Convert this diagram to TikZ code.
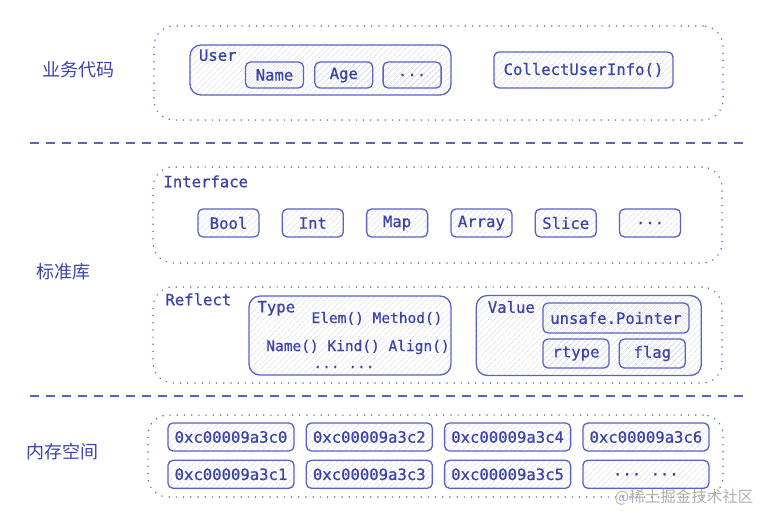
\documentclass[tikz,border=0pt]{standalone}
\usepackage{fontspec}
\setmonofont[FakeBold=0.8]{DejaVu Sans Mono}
\newfontfamily\cjk{Noto Sans CJK SC}
\usepackage{xcolor}
\usetikzlibrary{positioning,patterns.meta}
\definecolor{inkline}{RGB}{88,98,200}
\definecolor{inktext}{RGB}{58,68,168}
\definecolor{hatch}{RGB}{212,212,222}
\definecolor{mark}{RGB}{175,175,175}

\begin{document}
\begin{tikzpicture}[
  x=1pt, y=-1pt,
  font=\ttfamily\fontsize{15.6}{17}\selectfont, text=inktext,
  node distance=22pt,
  hatched/.style={pattern={Lines[angle=45,distance=4pt,line width=0.5pt]}, pattern color=hatch},
  item/.style={draw=inkline, line width=1.3pt, rounded corners=5pt, hatched, minimum width=61pt, minimum height=28pt, inner sep=0pt},
  addr/.style={item, minimum width=126pt},
  group/.style={draw=inkline, line width=1.3pt, rounded corners=11pt, hatched, inner sep=0pt},
  layer/.style={draw=inkline, line width=1.5pt, line cap=round, dash pattern=on 0.2pt off 7pt, rounded corners=20pt, inner sep=0pt},
  sep/.style={draw=inkline, line width=1.2pt, dash pattern=on 9pt off 7pt},
  tag/.style={font=\cjk\fontsize{18}{20}\selectfont},
  caption/.style={anchor=base west, inner sep=0pt},
  small/.style={font=\ttfamily\fontsize{14.5}{17}\selectfont}
]
\useasboundingbox (0,0) rectangle (772,522);

% layers
\node[layer, minimum width=569pt, minimum height=94pt] (biz) at (438.5,73) {};
\node[layer, minimum width=569pt, minimum height=96pt] (iface) at (437.5,215) {};
\node[layer, minimum width=569pt, minimum height=96pt] (refl) at (437.5,335) {};
\node[layer, minimum width=575pt, minimum height=82pt] (mem) at (435.5,456) {};

\node[tag] (bizlbl) at (78,70) {业务代码};
\node[tag] (stdlbl) at (63,272) {标准库};
\node[tag] (memlbl) at (63,452) {内存空间};

\draw[sep] (30,143) -- (750,143);
\draw[sep] (30,396) -- (750,396);

% business code
\node[group, minimum width=261pt, minimum height=50pt] (user) at (320.5,70) {};
\node[caption] (userlbl) at ([xshift=9pt,yshift=-16pt]user.north west) {User};
\node[item, minimum width=58pt, minimum height=26pt] (name) at (274.5,75) {Name};
\node[item, minimum width=58pt, minimum height=26pt, right=10pt of name] (age) {Age};
\node[item, minimum width=58pt, minimum height=26pt, right=9pt of age] (userdots) {...};
\node[item, minimum width=179pt, minimum height=36pt] (collect) at (583.5,70) {CollectUserInfo()};

% interface
\node[caption] (ifacelbl) at ([xshift=11pt,yshift=-21pt]iface.north west) {Interface};
\node[item] (bool) at (228.5,223) {Bool};
\node[item, right=of bool] (int) {Int};
\node[item, right=of int] (map) {Map};
\node[item, right=of map] (array) {Array};
\node[item, right=of array] (slice) {Slice};
\node[item, right=of slice] (ifdots) {...};

% reflect
\node[caption] (refllbl) at ([xshift=13pt,yshift=-19pt]refl.north west) {Reflect};
\node[group, minimum width=202pt, minimum height=79pt] (type) at (350,335.5) {};
\node[caption] (typelbl) at ([xshift=9pt,yshift=-17pt]type.north west) {Type};
\node[small, anchor=base] (typea) at (377,323) {Elem() Method()};
\node[small, anchor=base] (typeb) at (358,351) {Name() Kind() Align()};
\node[small, anchor=base] (typec) at (344,368) {...  ...};

\node[group, minimum width=225pt, minimum height=80pt, right=24pt of type] (value) {};
\node[caption] (valuelbl) at ([xshift=12pt,yshift=-18pt]value.north west) {Value};
\node[item, minimum width=146pt, minimum height=30pt] (ptr) at (616,318) {unsafe.Pointer};
\node[item, minimum width=66pt, minimum height=29pt] (rtype) at (576,353.5) {rtype};
\node[item, minimum width=66pt, minimum height=29pt, right=9pt of rtype] (flag) {flag};

% memory
\node[addr] (c0) at (231,437) {0xc00009a3c0};
\node[addr, right=11pt of c0] (c2) {0xc00009a3c2};
\node[addr, right=11pt of c2] (c4) {0xc00009a3c4};
\node[addr, right=11pt of c4] (c6) {0xc00009a3c6};
\node[addr, below=8pt of c0] (c1) {0xc00009a3c1};
\node[addr, right=11pt of c1] (c3) {0xc00009a3c3};
\node[addr, right=11pt of c3] (c5) {0xc00009a3c5};
\node[addr, right=11pt of c5] (memdots) {...  ...};

\node[font=\cjk\fontsize{15.5}{17}\selectfont, text=mark] (wm) at (684,497) {@稀土掘金技术社区};
\end{tikzpicture}
\end{document}
